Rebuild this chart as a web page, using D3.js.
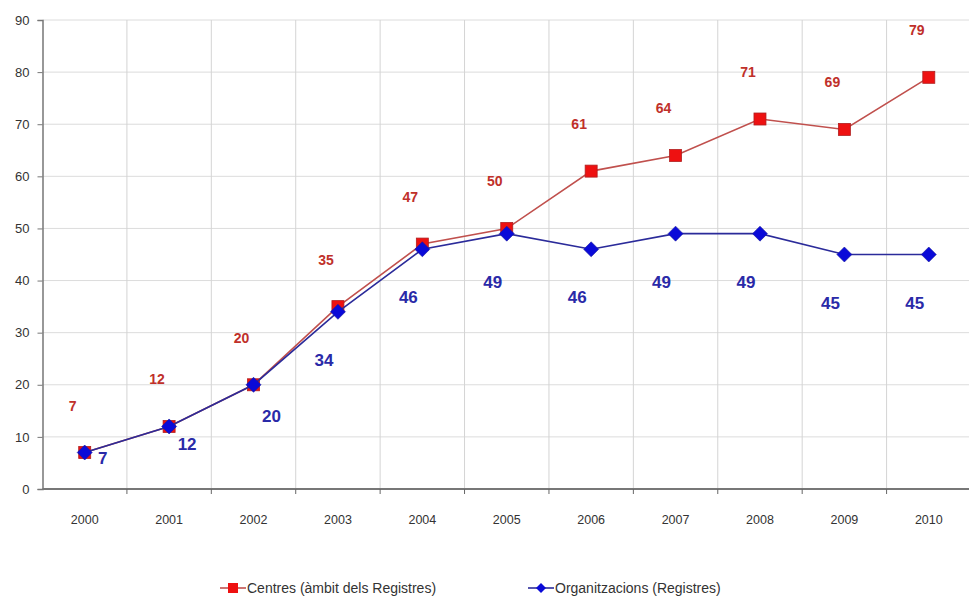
<!DOCTYPE html>
<html><head><meta charset="utf-8">
<script src="https://cdn.jsdelivr.net/npm/d3@7"></script>
<style>body{margin:0;background:#fff}svg{display:block;font-family:"Liberation Sans",Arial,sans-serif}</style>
</head><body><svg id="c" width="969" height="600"></svg>
<script>
const years = ["2000","2001","2002","2003","2004","2005","2006","2007","2008","2009","2010"];
const centres = [7,12,20,35,47,50,61,64,71,69,79];
const organitzacions = [7,12,20,34,46,49,46,49,49,45,45];
const yTicks = [0,10,20,30,40,50,60,70,80,90];
const seriesNames = ["Centres (àmbit dels Registres)","Organitzacions (Registres)"];

const svg = d3.select("#c");
const L = 42.5, R = 971, T = 20, B = 489;
const x = d3.scaleBand().domain(years).range([L, R]);
const y = d3.scaleLinear().domain([0, 90]).range([B, T]);
const cx = d => x(d) + x.bandwidth()/2;
const dia = r => `M0,${-r}L${r},0L0,${r}L${-r},0Z`;

svg.append("g").selectAll("line").data(yTicks.filter(t=>t>0)).join("line")
  .attr("x1", L).attr("x2", 969).attr("y1", d=>y(d)).attr("y2", d=>y(d))
  .attr("stroke", "#dcdcdc").attr("stroke-width", 1);
svg.append("g").selectAll("line").data(years.slice(1)).join("line")
  .attr("x1", d=>x(d)).attr("x2", d=>x(d)).attr("y1", T).attr("y2", B)
  .attr("stroke", "#d4d4d4").attr("stroke-width", 1);

const ya = svg.append("g").attr("transform", `translate(${L},0)`)
  .call(d3.axisLeft(y).tickValues(yTicks).tickSize(5).tickPadding(8));
ya.select(".domain").attr("stroke", "#777").attr("stroke-width", 1.5);
ya.selectAll(".tick line").attr("stroke", "#777");
ya.selectAll("text").attr("font-size", 13).attr("fill", "#333");

const xa = svg.append("g").attr("transform", `translate(0,${B})`)
  .call(d3.axisBottom(x).tickSize(0).tickPadding(26));
xa.select(".domain").remove();
xa.append("line").attr("x1", L).attr("x2", 969).attr("stroke", "#777").attr("stroke-width", 2);
xa.selectAll(".bt").data(years.slice(1)).join("line").attr("class","bt")
  .attr("x1", d=>x(d)).attr("x2", d=>x(d)).attr("y1", 0).attr("y2", 5).attr("stroke", "#666");
xa.selectAll("text").attr("font-size", 12.5).attr("fill", "#333");

const line = d3.line().x((d,i)=>cx(years[i])).y(d=>y(d));

svg.append("path").datum(centres).attr("d", line).attr("fill","none")
  .attr("stroke","#c0504d").attr("stroke-width",1.6);
svg.append("g").selectAll("rect").data(centres).join("rect")
  .attr("x",(d,i)=>cx(years[i])-6).attr("y",d=>y(d)-6).attr("width",12).attr("height",12)
  .attr("fill","#ee1111").attr("stroke","#b02020").attr("stroke-width",0.8);

svg.append("path").datum(organitzacions).attr("d", line).attr("fill","none")
  .attr("stroke","#2b2b9a").attr("stroke-width",1.6);
svg.append("g").selectAll("path").data(organitzacions).join("path")
  .attr("d", dia(7.5))
  .attr("transform",(d,i)=>`translate(${cx(years[i])},${y(d)})`)
  .attr("fill","#0a0ad8").attr("stroke","#1a1a9a").attr("stroke-width",0.6);

svg.append("g").selectAll("text").data(centres).join("text")
  .attr("x",(d,i)=>cx(years[i])-12).attr("y",d=>y(d)-42)
  .attr("text-anchor","middle").attr("font-size",14).attr("font-weight","bold")
  .attr("fill","#c0302a").text(d=>d);

svg.append("g").selectAll("text").data(organitzacions).join("text")
  .attr("x",(d,i)=>cx(years[i]) + (i<3 ? 18 : -14))
  .attr("y",(d,i)=>y(d) + (i<3 ? 11 + i*13 : 54))
  .attr("text-anchor","middle").attr("font-size",17).attr("font-weight","bold")
  .attr("fill","#2a2aa8").text(d=>d);

const lg = svg.append("g");
lg.append("line").attr("x1",220).attr("x2",246).attr("y1",588).attr("y2",588).attr("stroke","#c0504d").attr("stroke-width",1.6);
lg.append("rect").attr("x",228).attr("y",583).attr("width",10).attr("height",10).attr("fill","#ee1111");
lg.append("text").attr("x",247).attr("y",593).attr("font-size",14).attr("fill","#333").text(seriesNames[0]);
lg.append("line").attr("x1",528).attr("x2",554).attr("y1",588).attr("y2",588).attr("stroke","#2b2b9a").attr("stroke-width",1.6);
lg.append("path").attr("d", dia(5)).attr("transform","translate(541,588)").attr("fill","#0a0ad8");
lg.append("text").attr("x",555).attr("y",593).attr("font-size",14).attr("fill","#333").text(seriesNames[1]);
</script></body></html>
